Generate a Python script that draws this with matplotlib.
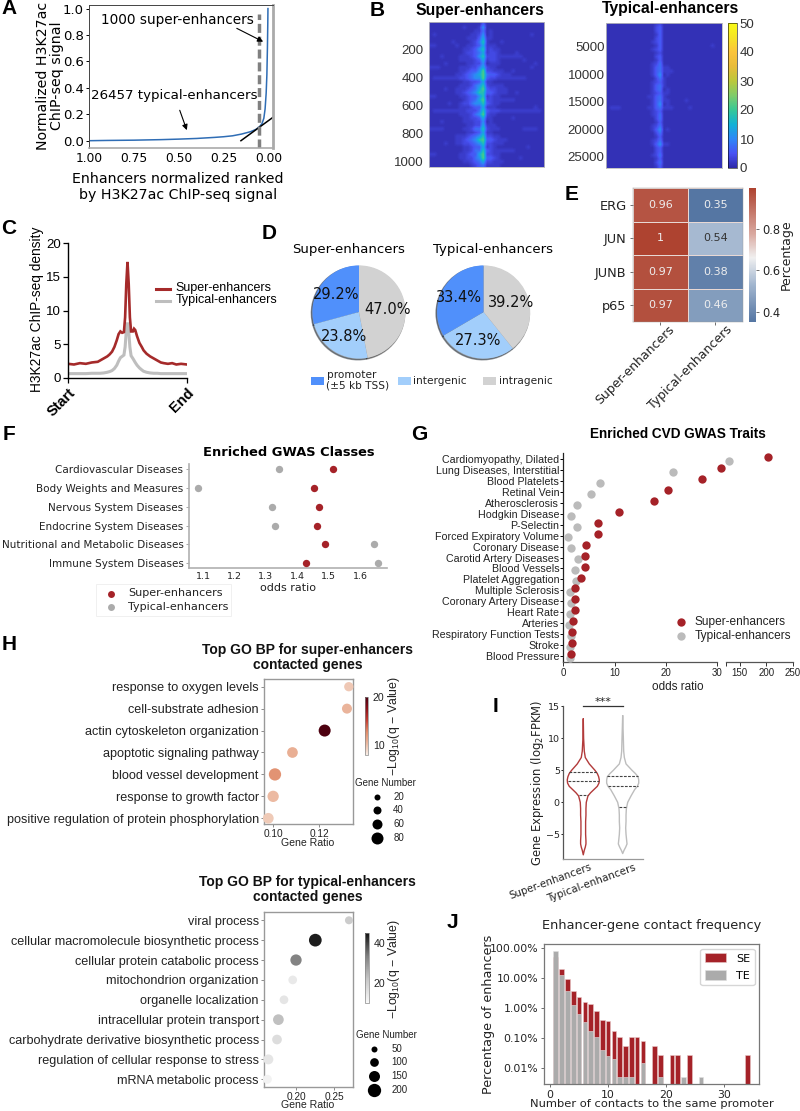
import numpy as np
import matplotlib
matplotlib.use('Agg')
import matplotlib.pyplot as plt
from matplotlib.colors import LinearSegmentedColormap, Normalize
from matplotlib.cm import ScalarMappable
from matplotlib.patches import Rectangle

W, H = 800, 1111
ARIAL = 'Liberation Sans'
SE_RED = '#A52228'
TE_GREY = '#ABABAB'

# panel A
rank_x = [1.0, 0.9, 0.75, 0.6, 0.5, 0.4, 0.3, 0.25, 0.2, 0.15, 0.1, 0.07, 0.05, 0.035, 0.025, 0.018, 0.012, 0.008, 0.005, 0.003, 0.002]
rank_y = [0.0, 0.002, 0.004, 0.008, 0.012, 0.017, 0.025, 0.03, 0.037, 0.05, 0.068, 0.085, 0.105, 0.13, 0.17, 0.24, 0.36, 0.5, 0.7, 0.88, 1.0]
tangent_x = [0.153, -0.024]
tangent_y = [0.0, 0.175]

# panel B, one digit per cell, looked up in digit_signal
digit_signal = [0, 1, 2.5, 4, 6, 8, 11, 14, 18, 22]
SUPER_ROWS = [
    "1111111111111141111111111111111",
    "1111111112111261111111111111111",
    "1111111111112251211111111111111",
    "1211111111122361211111111112111",
    "1111111111222472211111111111111",
    "1111112111123582111211111111111",
    "2211111211223472221111111111111",
    "1111111112234682322111111111111",
    "1111111112334572332111121111111",
    "1112111122234683332222222111111",
    "1111111122223472332111111211111",
    "1111211111223361222111111111211",
    "2221111122233573221111111112111",
    "1111111122344693322211211111111",
    "1111111223456795443222111111111",
    "1222222233456694332222222211111",
    "1111111112233472211111111111111",
    "1111111122235683222211111111111",
    "1111211222345794332221111111111",
    "1111111223456884432221121111111",
    "2211111122344682322111111111111",
    "1111111112345793322222211111111",
    "1111121123356684322111111111111",
    "1111111122234472221111111111211",
    "1222222222333584333222222222221",
    "1111111122235693221111111111111",
    "1111111112233472211111211111111",
    "1112111112223361211111111111111",
    "1111111111223372221111111111111",
    "2222111112235583222111111222211",
    "1111111111223472211111111111111",
    "1111111222345683322111111111111",
    "1111111223456894432221111111111",
    "1111211223345683322211111111111",
    "1111111112234472321111111121111",
    "1111111112235584322222211111111",
    "2211111122344793322111111111111",
    "1111111122335694432111112111111",
    "1111111112234573322211111111111",
    "1111111111123452222111111111111",
]
TYPICAL_ROWS = [
    "1111111111111231111111111111111",
    "1111111111111341111111111111111",
    "1111111111111341111111111111111",
    "1111111111111241111111111111111",
    "1111111111111341111111111111111",
    "1111111111112341111111111111111",
    "1111111111111241111111111111211",
    "1111111111112341111111111111111",
    "1111111111111231111111111111111",
    "1111111111111341111111111111111",
    "1111111111111241111111111111111",
    "1111111111112351111111111111111",
    "1111111111112452211111111111111",
    "1111111111112452221111111111111",
    "1111111111112461211111111111111",
    "1111111111111352111111111111111",
    "1111111111112342111111111111111",
    "1111111111112452111111111111111",
    "1111111111112451211111111111111",
    "1111111111112342211111111111111",
    "1111111111122452111111111111111",
    "1111111111112452211112111111111",
    "1111111111112461211111111111111",
    "1222111111122452221111211111111",
    "1111111111112341111111111111111",
    "1111111111112351111111111111111",
    "1111111111111351111111111111111",
    "1111111111111241111111111111111",
    "1111111111112351111111111111111",
    "1111111111112461211111111111111",
    "1111111111111351111111111111111",
    "1111111111111241111111111111111",
    "1111111111112351111111111111111",
    "1111111111112462211111111111111",
    "1111111111111341111111111111111",
    "1111111111111341111111111111111",
    "1111111111112351111111111111111",
    "1111111111111241111111111111111",
    "1111111111111351111111111111111",
    "1111111111111241111111111111111",
]
parula_colors = ['#2F2AA8', '#4852F4', '#2E87F7', '#12B1D6', '#37C897', '#7FCC6B',
                 '#BBC83C', '#E8BC3A', '#FBC43C', '#F5E327', '#F9FB15']

# panel C
profile_x = [-100, -90, -80, -70, -60, -50, -46, -40, -34, -30, -26, -22, -18, -15, -12, -9, -6, -4, -2, 0, 2, 4, 6, 9, 11, 13, 16, 20, 24, 27, 32, 38, 44, 50, 56, 61, 68, 75, 82, 90, 100]
super_profile = [2.1, 2.0, 2.2, 2.1, 2.3, 2.4, 2.6, 2.9, 3.2, 3.5, 3.9, 4.6, 5.6, 6.5, 6.9, 6.7, 6.8, 9.0, 14.0, 17.2, 14.0, 9.0, 6.9, 6.9, 7.3, 7.1, 6.2, 5.2, 4.6, 4.1, 3.6, 3.2, 2.9, 2.6, 2.3, 2.2, 2.1, 2.2, 2.0, 2.1, 2.0]
typical_profile = [0.65, 0.65, 0.65, 0.65, 0.7, 0.7, 0.7, 0.75, 0.85, 0.95, 1.1, 1.4, 1.9, 2.5, 3.0, 3.2, 3.4, 4.6, 7.0, 8.2, 7.0, 4.6, 3.3, 2.9, 2.6, 2.3, 1.9, 1.5, 1.2, 1.0, 0.85, 0.75, 0.7, 0.7, 0.65, 0.65, 0.65, 0.65, 0.65, 0.65, 0.65]

# panel D
pie_labels = ['promoter\n(±5 kb TSS)', 'intergenic', 'intragenic']
pie_colors = ['#5090FB', '#A2CEFB', '#D2D2D2']
super_shares = [29.2, 23.8, 47.0]
typical_shares = [33.4, 27.3, 39.2]

# panel E
tf_names = ['ERG', 'JUN', 'JUNB', 'p65']
tf_columns = ['Super-enhancers', 'Typical-enhancers']
tf_values = [[0.96, 0.35], [1, 0.54], [0.97, 0.38], [0.97, 0.46]]

# panel F
class_names = ['Cardiovascular Diseases', 'Body Weights and Measures', 'Nervous System Diseases',
               'Endocrine System Diseases', 'Nutritional and Metabolic Diseases', 'Immune System Diseases']
class_se = [1.514, 1.454, 1.469, 1.463, 1.490, 1.429]
class_te = [1.343, 1.084, 1.320, 1.329, 1.646, 1.657]

# panel G
trait_names = ['Cardiomyopathy, Dilated', 'Lung Diseases, Interstitial', 'Blood Platelets', 'Retinal Vein',
               'Atherosclerosis', 'Hodgkin Disease', 'P-Selectin', 'Forced Expiratory Volume', 'Coronary Disease',
               'Carotid Artery Diseases', 'Blood Vessels', 'Platelet Aggregation', 'Multiple Sclerosis',
               'Coronary Artery Disease', 'Heart Rate', 'Arteries', 'Respiratory Function Tests', 'Stroke', 'Blood Pressure']
trait_se = [203, 30.8, 27.1, 20.3, 17.7, 10.8, 6.75, 6.7, 4.35, 4.3, 4.15, 3.45, 2.35, 2.35, 2.3, 1.8, 1.75, 1.6, 1.43]
trait_te = [129.4, 21.4, 7.1, 5.3, 2.6, 1.4, 2.6, 0.9, 1.4, 2.9, 2.3, 2.5, 1.3, 1.5, 1.2, 1.0, 1.4, 1.2, 1.25]

# panel H
go_se_names = ['response to oxygen levels', 'cell-substrate adhesion', 'actin cytoskeleton organization',
               'apoptotic signaling pathway', 'blood vessel development', 'response to growth factor',
               'positive regulation of protein phosphorylation']
go_se_ratio = [0.1328, 0.1320, 0.1223, 0.1083, 0.1007, 0.0999, 0.0978]
go_se_genes = [53, 60, 80, 67, 83, 73, 67]
go_se_q = [9.6, 10.5, 20.0, 10.8, 12.3, 10.2, 9.5]
go_te_names = ['viral process', 'cellular macromolecule biosynthetic process', 'cellular protein catabolic process',
               'mitochondrion organization', 'organelle localization', 'intracellular protein transport',
               'carbohydrate derivative biosynthetic process', 'regulation of cellular response to stress',
               'mRNA metabolic process']
go_te_ratio = [0.2691, 0.2252, 0.2000, 0.1957, 0.1843, 0.1770, 0.1752, 0.1639, 0.1626]
go_te_genes = [90, 186, 157, 104, 104, 145, 124, 130, 110]
go_te_q = [21, 44, 33, 14, 15, 23, 17, 15, 12]

# panel I
violin_se_y = [13.0, 10, 8, 7, 6, 5, 4.5, 4, 3.5, 3, 2.5, 2, 1.5, 1, 0, -1, -2, -3, -4, -5, -6, -6.5, -7, -7.5, -8.2]
violin_se_w = [0, 1, 3, 6, 18, 35, 42, 46, 48, 47, 42, 32, 22, 14, 9, 8, 8, 7, 7, 7, 8, 8, 6, 3, 0]
violin_te_y = [13.5, 10, 8, 7, 6, 5, 4.5, 4, 3.5, 3, 2.5, 2, 1, 0, -1, -2, -3, -4, -5, -6, -6.5, -7, -7.5, -8.0]
violin_te_w = [0, 2, 3, 5, 10, 28, 38, 46, 48, 48, 44, 36, 25, 15, 11, 10, 10, 9, 10, 12, 13, 9, 4, 0]
quart_se = [4.7, 3.3, 1.1]
quart_se_w = [42, 47, 14]
quart_te = [4.1, 2.6, -0.7]
quart_te_w = [46, 45, 12]

# panel J
contacts = list(range(1, 35))
pct_se = [50, 21, 9.3, 3.8, 2.4, 1.6, 1.4, 0.8, 0.41, 0.38, 0.17, 0.11, 0.056, 0.11, 0.11, 0.08, 0, 0.056, 0.028, 0,
          0.028, 0.028, 0, 0.028, 0, 0, 0, 0, 0, 0, 0, 0, 0, 0.028]
pct_te = [84, 13, 3.8, 1.3, 0.66, 0.35, 0.17, 0.11, 0.04, 0.025, 0.02, 0.005, 0.005, 0.005, 0, 0.015, 0, 0, 0.005, 0,
          0, 0, 0.005, 0, 0, 0.005, 0, 0, 0, 0, 0, 0, 0, 0]

plt.rcParams['font.family'] = ['DejaVu Sans']
plt.rcParams['mathtext.default'] = 'regular'
fig = plt.figure(figsize=(W / 100, H / 100), dpi=100)


def axpx(left, top, right, bottom, **kw):
    return fig.add_axes([left / W, 1 - bottom / H, (right - left) / W, (bottom - top) / H], **kw)


def txt(x, y, s, size=10, ha='center', va='center', **kw):
    return fig.text(x / W, 1 - y / H, s, fontsize=size, ha=ha, va=va, **kw)


def spines(ax, color, lw, hide=()):
    for k, sp in ax.spines.items():
        sp.set_color(color)
        sp.set_linewidth(lw)
        sp.set_visible(k not in hide)


for letter, lx, ly in [('A', 9, 9), ('B', 377, 10), ('C', 9, 229), ('D', 269, 234), ('E', 572, 194),
                       ('F', 9, 435), ('G', 419, 435), ('H', 9, 645), ('I', 496, 706), ('J', 452, 922)]:
    txt(lx, ly, letter, size=15, family=ARIAL, weight='bold')

# A
ax = axpx(89.3, 5.3, 272.7, 147.7)
ax.plot(rank_x, rank_y, color='#2F6DB5', lw=1.1)
ax.plot(tangent_x, tangent_y, color='black', lw=1.1, clip_on=False)
ax.plot([0.05, 0.05], [-0.053, 0.96], color='#808080', lw=2.5, ls=(0, (2.6, 1.1)))
ax.set_xlim(1.0, -0.0245)
ax.set_ylim(-0.053, 1.025)
ax.set_xticks([1.0, 0.75, 0.5, 0.25, 0.0])
ax.set_xticklabels(['1.00', '0.75', '0.50', '0.25', '0.00'], fontsize=8.8)
ax.set_yticks([0, 0.2, 0.4, 0.6, 0.8, 1.0])
ax.tick_params(axis='y', labelsize=9.5, length=2.5, pad=1.5, width=0.7)
ax.tick_params(axis='x', length=0, pad=3)
spines(ax, '#444444', 0.7)
ax.spines['bottom'].set_color('#AAAAAA')
ax.spines['bottom'].set_linewidth(1.2)
ax.spines['right'].set_color('#AAAAAA')
ax.spines['right'].set_linewidth(2)
ax.annotate('', xy=(0.015, 0.74), xytext=(0.19, 0.86), arrowprops=dict(arrowstyle='-|>', color='black', lw=0.8, mutation_scale=8))
ax.annotate('', xy=(0.45, 0.06), xytext=(0.5, 0.25), arrowprops=dict(arrowstyle='-|>', color='black', lw=0.8, mutation_scale=8))
txt(177, 20, '1000 super-enhancers', size=9.85)
txt(174, 95, '26457 typical-enhancers', size=9.6)
txt(50, 76, 'Normalized H3K27ac\nChIP-seq signal', size=10.2, rotation=90, linespacing=1.0)
txt(178, 187, 'Enhancers normalized ranked\nby H3K27ac ChIP-seq signal', size=10.2, linespacing=1.15)

# B
parula = LinearSegmentedColormap.from_list('parula', parula_colors)
super_grid = np.array([[digit_signal[int(c)] for c in row] for row in SUPER_ROWS])
typical_grid = np.array([[digit_signal[int(c)] for c in row] for row in TYPICAL_ROWS])
ax = axpx(429, 21.7, 544.3, 166.7)
ax.imshow(super_grid, cmap=parula, vmin=0, vmax=50, aspect='auto', interpolation='bilinear', extent=(0, 1, 1040, 0))
ax.set_xticks([])
ax.set_yticks([200, 400, 600, 800, 1000])
ax.tick_params(length=0, labelsize=9.5, labelcolor='#333333', pad=4)
for lab in ax.get_yticklabels():
    lab.set_family(ARIAL)
spines(ax, '#BBBBBB', 0.6)
ax = axpx(606, 22.7, 721.7, 168)
ax.imshow(typical_grid, cmap=parula, vmin=0, vmax=50, aspect='auto', interpolation='bilinear', extent=(0, 1, 27000, 582))
ax.set_xticks([])
ax.set_yticks([5000, 10000, 15000, 20000, 25000])
ax.tick_params(length=0, labelsize=9.5, labelcolor='#333333', pad=1)
for lab in ax.get_yticklabels():
    lab.set_family(ARIAL)
spines(ax, '#BBBBBB', 0.6)
cax = axpx(728.3, 23, 736.7, 168)
fig.colorbar(ScalarMappable(Normalize(0, 50), parula), cax=cax, ticks=[0, 10, 20, 30, 40, 50])
cax.tick_params(length=0, labelsize=9.5, labelcolor='#333333', pad=2)
for lab in cax.get_yticklabels():
    lab.set_family(ARIAL)
cax.spines['outline'].set_linewidth(0.4)
txt(480, 10, 'Super-enhancers', size=11.3, family=ARIAL, weight='bold')
txt(671, 9, 'Typical-enhancers', size=11.3, family=ARIAL, weight='bold')

# C
ax = axpx(68, 243, 187, 378)
ax.plot(profile_x, typical_profile, color='#BEBEBE', lw=2.2, solid_joinstyle='miter')
ax.plot(profile_x, super_profile, color='#A52A2A', lw=1.9, solid_joinstyle='miter')
ax.set_xlim(-100, 100)
ax.set_ylim(0, 20)
ax.set_yticks([0, 5, 10, 15, 20])
ax.set_xticks([-100, 100])
ax.set_xticklabels(['Start', 'End'], rotation=45, fontsize=10.5, weight='bold', family=ARIAL, ha='right', rotation_mode='anchor')
ax.tick_params(axis='y', labelsize=9.5, length=3.5, width=0.9, pad=1.5, labelfontfamily=ARIAL)
ax.tick_params(axis='x', length=3.5, width=0.9, pad=2)
spines(ax, 'black', 1.0, hide=('top', 'right'))
txt(37.5, 309, 'H3K27ac ChIP-seq density', size=9.9, rotation=90, family=ARIAL)
leg_ax_x = [155.5, 170]
for yy, col, name in [(289, '#A52A2A', 'Super-enhancers'), (301, '#BEBEBE', 'Typical-enhancers')]:
    fig.add_artist(plt.Line2D([v / W for v in leg_ax_x], [1 - yy / H] * 2, color=col, lw=2.2))
    txt(175.5, yy - 0.5, name, size=9.0, ha='left', family=ARIAL)

# D
for shares, cx, title, title_x in [(super_shares, 359, 'Super-enhancers', 349), (typical_shares, 483.7, 'Typical-enhancers', 493)]:
    ax = axpx(cx - 60, 252, cx + 60, 372)
    ax.pie(shares, colors=pie_colors, startangle=90, radius=46.6 / 60, center=(0, 0),
           shadow=dict(ox=-0.012, oy=-0.014, shade=0.8),
           autopct='%1.1f%%', pctdistance=0.62, textprops=dict(fontsize=10.5, color='#111111'))
    ax.set_xlim(-1, 1)
    ax.set_ylim(-1, 1)
    txt(title_x, 250, title, size=9.5)
for px, yy, i in [(311, 381, 0), (398, 381, 1), (483, 381, 2)]:
    fig.add_artist(Rectangle((px / W, 1 - (yy + 4) / H), 12.5 / W, 8 / H, transform=fig.transFigure, color=pie_colors[i], lw=0))
    txt(px + 15.5, yy - 0.5, pie_labels[i], size=7.6, ha='left', linespacing=1.05, color='#222222')

# E
vlag_like = LinearSegmentedColormap.from_list('vlag_like', [(0, '#5576A3'), (0.28, '#A2B6CF'), (0.48, '#F0F0F0'), (0.66, '#D9A89F'), (1, '#AE4330')])
ax = axpx(632.7, 188, 742.7, 322)
ax.pcolormesh(np.array(tf_values), cmap=vlag_like, vmin=0.35, vmax=1, edgecolors='#E8D8D4', linewidth=0.5)
ax.invert_yaxis()
for r, row in enumerate(tf_values):
    for c, v in enumerate(row):
        ax.text(c + 0.5, r + 0.5, str(v), ha='center', va='center', fontsize=8, color='#333333' if v == 0.54 else '#EEEEEE')
ax.set_xticks([0.5, 1.5])
ax.set_xticklabels(['', ''])
ax.set_yticks([0.5, 1.5, 2.5, 3.5])
ax.set_yticklabels(tf_names, fontsize=9.3, color='#222222')
ax.tick_params(length=2.5, width=0.6, pad=2, color='#555555')
spines(ax, '#999999', 0.3)
txt(635, 365, tf_columns[0], size=9, rotation=45, color='#222222')
txt(690, 368, tf_columns[1], size=9, rotation=45, color='#222222')
cax = axpx(749, 188, 756, 322)
fig.colorbar(ScalarMappable(Normalize(0.35, 1), vlag_like), cax=cax, ticks=[0.4, 0.6, 0.8])
cax.tick_params(labelsize=8.3, length=2.5, width=0.6, pad=2, labelcolor='#222222', color='#555555')
cax.spines['outline'].set_visible(False)
txt(786.5, 255, 'Percentage', size=9, rotation=90, color='#222222')

# F
ax = axpx(189, 464, 387, 567.7)
rows = np.arange(len(class_names))
ax.scatter(class_te, rows, s=28, color=TE_GREY, lw=0, label='Typical-enhancers', zorder=3, clip_on=False)
ax.scatter(class_se, rows, s=28, color=SE_RED, lw=0, label='Super-enhancers', zorder=3, clip_on=False)
ax.set_xlim(1.1 - 14.3 / 313.3, 1.1 + 183.7 / 313.3)
ax.set_ylim(5 + 4.4 / 18.87, -5 / 18.87)
ax.set_yticks(rows)
ax.set_yticklabels(class_names, fontsize=7.5, color='#222222')
ax.set_xticks([1.1, 1.2, 1.3, 1.4, 1.5, 1.6])
ax.tick_params(axis='y', length=2, width=0.6, pad=2, color='#999999')
ax.tick_params(axis='x', labelsize=6.8, length=0, pad=3, labelcolor='#222222')
spines(ax, '#B0B0B0', 1.2, hide=('top', 'right'))
txt(288, 588, 'odds ratio', size=8, color='#222222')
txt(289, 452, 'Enriched GWAS Classes', size=9.4, weight='bold')
fig.add_artist(Rectangle((96 / W, 1 - 616 / H), 135 / W, 32 / H, transform=fig.transFigure, fc='white', ec='#EEEEEE', lw=0.6))
for yy, col, name in [(594, SE_RED, 'Super-enhancers'), (607, TE_GREY, 'Typical-enhancers')]:
    fig.add_artist(plt.Line2D([111 / W], [1 - yy / H], marker='o', ms=5, color=col, mew=0))
    txt(128, yy - 0.5, name, size=8, ha='left', color='#222222')

# G, the axis is broken after 30
rows = np.arange(len(trait_names))
trait_se_low = [v if v < 100 else np.nan for v in trait_se]
trait_te_low = [v if v < 100 else np.nan for v in trait_te]
trait_se_high = [v if v >= 100 else np.nan for v in trait_se]
trait_te_high = [v if v >= 100 else np.nan for v in trait_te]
ax = axpx(563.4, 453, 717.3, 662)
ax.scatter(trait_te_low, rows + 0.17, s=36, color='#BBBBBB', lw=0, zorder=3, clip_on=False)
ax.scatter(trait_se_low, rows - 0.17, s=36, color=SE_RED, lw=0, zorder=4, clip_on=False)
ax.set_xlim(0, 30)
ax.set_ylim(18 + 6 / 10.94, -6 / 10.94)
ax.set_yticks(rows)
ax.set_yticklabels(trait_names, fontsize=7.7, family=ARIAL, color='#222222')
ax.set_xticks([0, 10, 20, 30])
ax.tick_params(axis='y', length=2.5, width=0.7, pad=0.5)
ax.tick_params(axis='x', labelsize=7, length=3, width=0.7, pad=1, labelfontfamily=ARIAL, color='#333333', labelcolor='#222222')
spines(ax, '#222222', 0.9, hide=('top', 'right'))
ax.spines['bottom'].set_color('#555555')
ax2 = axpx(726.3, 453, 793, 662)
ax2.patch.set_alpha(0)
ax2.scatter(trait_te_high, rows + 0.17, s=36, color='#BBBBBB', lw=0, zorder=3, clip_on=False)
ax2.scatter(trait_se_high, rows - 0.17, s=36, color=SE_RED, lw=0, zorder=4, clip_on=False)
ax2.set_xlim(125, 250)
ax2.set_ylim(ax.get_ylim())
ax2.set_yticks([])
ax2.set_xticks([125, 150, 200, 250])
ax2.set_xticklabels(['', '150', '200', '250'])
ax2.tick_params(axis='x', labelsize=7, length=3, width=0.7, pad=1, labelfontfamily=ARIAL, color='#333333', labelcolor='#222222')
spines(ax2, '#555555', 0.9, hide=('top', 'right', 'left'))
txt(678, 687, 'odds ratio', size=8.5, family=ARIAL, color='#222222')
txt(678, 434.5, 'Enriched CVD GWAS Traits', size=9.8, family=ARIAL, weight='bold')
for yy, col, name in [(622, SE_RED, 'Super-enhancers'), (636, '#BBBBBB', 'Typical-enhancers')]:
    fig.add_artist(plt.Line2D([681 / W], [1 - yy / H], marker='o', ms=6, color=col, mew=0))
    txt(694.7, yy, name, size=8.6, ha='left', family=ARIAL, color='#222222')


# H
def go_panel(frame, names, ratios, genes, q, xlim, xticks, cmap, qrange, qticks, bar_px, lab_size,
             leg_n, leg_d, leg_xy, base_d, slope_d, row_px, top_row):
    left, top, right, bottom = frame
    ax = axpx(left, top, right, bottom)
    sizes = [((base_d + slope_d * g) * 0.72) ** 2 for g in genes]
    rows = np.arange(len(names))
    ax.scatter(ratios, rows, s=sizes, c=q, cmap=cmap, vmin=qrange[0], vmax=qrange[1], lw=0, zorder=3, clip_on=False)
    ax.set_xlim(*xlim)
    ax.set_ylim((bottom - top_row) / row_px, (top - top_row) / row_px)
    ax.set_yticks(rows)
    ax.set_yticklabels(names, fontsize=lab_size, family=ARIAL, color='#222222')
    ax.set_xticks(xticks)
    ax.set_xticklabels(['%.2f' % v for v in xticks])
    ax.tick_params(axis='y', length=2, width=0.6, pad=1.5, color='#777777')
    ax.tick_params(axis='x', length=2, width=0.6, pad=1.5, labelsize=7.3, labelfontfamily=ARIAL, color='#777777', labelcolor='#222222')
    spines(ax, '#999999', 1.0)
    cax = axpx(*bar_px)
    fig.colorbar(ScalarMappable(Normalize(*qrange), cmap), cax=cax, ticks=qticks)
    cax.tick_params(length=2, width=0.5, labelsize=7.6, pad=1.2, labelfontfamily=ARIAL, color='white', labelcolor='#222222')
    cax.spines['outline'].set_linewidth(0.5)
    cax.spines['outline'].set_color('#888888')
    lx, ly0, dy, tx = leg_xy
    for i, (n, d) in enumerate(zip(leg_n, leg_d)):
        fig.add_artist(plt.Line2D([lx / W], [1 - (ly0 + i * dy) / H], marker='o', ms=d * 0.72, color='black', mew=0))
        txt(tx, ly0 + i * dy, str(n), size=7, ha='left', family=ARIAL, color='#222222')


reds_like = LinearSegmentedColormap.from_list('reds_like', ['#F7EDE6', '#EBB79E', '#E08A68', '#C23A30', '#8A0F18', '#4A0010'])
go_panel((263.7, 679.3, 352.7, 824.3), go_se_names, go_se_ratio, go_se_genes, go_se_q,
         (0.10 - 29 / 6900, 0.10 + 238 / 6900), [0.10, 0.12], reds_like, (7.9, 20.1), [10, 20],
         (364.7, 696.7, 368.3, 755), 9.05, [20, 40, 60, 80], [6, 8, 10, 12], (376.7, 796.7, 13.67, 393.3), 4, 0.1, 21.93, 686.7)
grey_like = LinearSegmentedColormap.from_list('grey_like', ['#FAFAFA', '#C8C8C8', '#808080', '#111111'])
go_panel((263.7, 912.3, 353.3, 1086.7), go_te_names, go_te_ratio, go_te_genes, go_te_q,
         (0.20 - 97 / 2300, 0.20 + 172 / 2300), [0.20, 0.25], grey_like, (10, 45.3), [20, 40],
         (365.3, 932.7, 369, 1003.3), 9.1, [50, 100, 150, 200], [6, 8.7, 11, 13.3], (374, 1048.7, 13.67, 391.7), 3.6, 0.049, 19.87, 920.3)
for cy, l1, l2 in [(650, 'Top GO BP for super-enhancers', 'contacted genes'), (882, 'Top GO BP for typical-enhancers', 'contacted genes')]:
    txt(307, cy, l1, size=10, family=ARIAL, weight='bold', color='#111111')
    txt(308, cy + 15, l2, size=10, family=ARIAL, weight='bold', color='#111111')
txt(308, 843, 'Gene Ratio', size=7.6, family=ARIAL, color='#222222')
txt(308, 1105, 'Gene Ratio', size=7.6, family=ARIAL, color='#222222')
txt(394, 726, r'$-$Log$_{10}$(q $-$ Value)', size=8.9, rotation=90, family=ARIAL, color='#222222')
txt(394, 969, r'$-$Log$_{10}$(q $-$ Value)', size=8.9, rotation=90, family=ARIAL, color='#222222')
txt(385.7, 783, 'Gene Number', size=7, family=ARIAL, color='#222222')
txt(386, 1034.7, 'Gene Number', size=7, family=ARIAL, color='#222222')

# I
ax = axpx(563.3, 706.3, 642.7, 859.3)
for pos, vy, vw, qs, qw, col in [(0, violin_se_y, violin_se_w, quart_se, quart_se_w, '#B23A3A'),
                                 (1, violin_te_y, violin_te_w, quart_te, quart_te_w, '#BDBDBD')]:
    w = np.array(vw) / 118
    ax.plot(np.r_[pos - w, (pos + w)[::-1]], np.r_[vy, vy[::-1]], color=col, lw=1.0)
    for q, qq in zip(qs, qw):
        ax.plot([pos - qq / 118, pos + qq / 118], [q, q], color='#444444', lw=0.8, ls=(0, (2.5, 1.2)))
ax.plot([0, 1], [15, 15], color='#333333', lw=0.9, clip_on=False)
ax.text(0.5, 15.7, '***', ha='center', va='center', fontsize=8, color='#222222')
ax.set_xlim(-0.507, 1.508)
ax.set_ylim(-8.9, 15)
ax.set_yticks([-5, 0, 5, 10, 15])
ax.set_yticklabels(['\u22125', '0', '5', '10', '15'])
ax.set_xticks([0, 1])
ax.set_xticklabels(['', ''])
ax.tick_params(axis='y', labelsize=6.8, length=1.5, width=0.6, pad=1, labelcolor='#222222')
ax.tick_params(axis='x', length=0, pad=3)
spines(ax, '#999999', 0.9, hide=('top', 'right'))
ax.spines['left'].set_color('#555555')
txt(551, 881, tf_columns[0], size=7.4, rotation=20, color='#222222')
txt(591, 883.5, tf_columns[1], size=7.5, rotation=20, color='#222222')
txt(538, 783, r'Gene Expression ($log_2$FPKM)', size=8.4, rotation=90, color='#222222')

# J
ax = axpx(544.3, 944.3, 759, 1083.7)
ax.bar(contacts, pct_se, width=0.8, color=SE_RED, edgecolor='#E8C8C8', linewidth=0.4, label='SE')
ax.bar(contacts, pct_te, width=0.8, color=TE_GREY, edgecolor='#E0E0E0', linewidth=0.4, label='TE')
ax.set_yscale('log')
ax.set_xlim(-0.98, 36)
ax.set_ylim(0.00307, 136)
ax.set_yticks([100, 10, 1, 0.1, 0.01])
ax.set_yticklabels(['100.00%', '10.00%', '1.00%', '0.10%', '0.01%'])
ax.minorticks_off()
ax.set_xticks([0, 10, 20, 30])
ax.tick_params(labelsize=7.8, length=2.5, width=0.6, pad=2, labelcolor='#222222', color='#555555')
spines(ax, '#777777', 0.9)
ax.legend(loc='upper right', fontsize=8, handlelength=1.9, handleheight=0.9, borderaxespad=0.4, labelspacing=0.6, handletextpad=0.9)
txt(651.7, 925, 'Enhancer-gene contact frequency', size=9.3, color='#222222')
txt(652, 1104, 'Number of contacts to the same promoter', size=8.25, color='#222222')
txt(489, 1014, 'Percentage of enhancers', size=9.2, rotation=90, color='#222222')

fig.savefig('out.png', dpi=100)
